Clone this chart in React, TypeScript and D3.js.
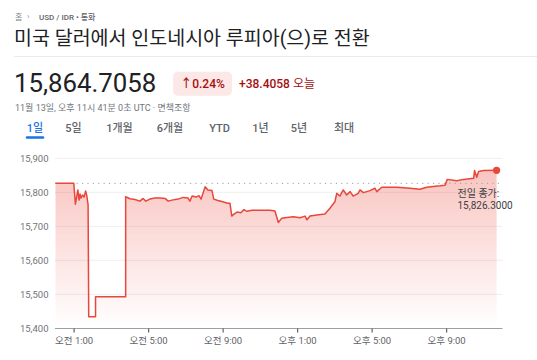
import React from "react";
import * as d3 from "d3";

const times = [
  "00:00","00:59","01:04","01:08","01:12","01:16","01:19","01:22","01:27","01:32","01:37","01:41","01:45",
  "01:47","02:09","02:09","03:46","03:46",
  "04:00","04:16","04:32","04:42","04:51","05:04","05:20","05:37","05:53","06:03","06:15","06:35","06:51",
  "07:07","07:13","07:20","07:33","07:42","07:49","08:02","08:11","08:24","08:30","08:43","08:56","09:15",
  "09:22","09:28","09:35","09:45","09:57","10:07","10:17","10:33","10:59","11:31","11:47","11:58","12:09",
  "12:25","12:46","13:08","13:24","13:30","13:40","14:02","14:28","14:44","15:00","15:06","15:16","15:27",
  "15:38","15:49","15:59","16:15","16:21","16:32","16:53","17:09","17:15","17:31","18:20","19:02","19:34",
  "19:56","20:39","20:55","21:02","21:33","21:54","22:27","22:30","22:37","22:43","22:59","23:41"
];
const rates = [
  15826.3,15826.3,15765,15786,15807,15777,15795,15783,15792,15786,15804,15789,15763,
  15434,15434,15493,15493,15787,
  15781,15779,15774,15782,15774,15780,15783,15783,15782,15774,15777,15780,15785,
  15783,15774,15789,15786,15790,15780,15816,15807,15805,15780,15776,15773,15768,
  15768,15730,15736,15742,15740,15749,15744,15747,15747,15747,15745,15711,15724,
  15726,15728,15725,15730,15719,15730,15733,15736,15753,15772,15797,15789,15807,
  15792,15802,15789,15797,15807,15799,15805,15812,15802,15815,15815,15812,15809,
  15815,15819,15821,15838,15834,15838,15841,15864,15844,15861,15864,15864.7058
];
const yTicks = [15400, 15500, 15600, 15700, 15800, 15900];
const xTickTimes = ["01:00", "05:00", "09:00", "13:00", "17:00", "21:00"];
const xTickLabels = ["오전 1:00", "오전 5:00", "오전 9:00", "오후 1:00", "오후 5:00", "오후 9:00"];
const tabs = ["1일", "5일", "1개월", "6개월", "YTD", "1년", "5년", "최대"];
const tabX = [35, 73.5, 119.5, 170, 219.5, 260.5, 299, 344];
const prevClose = 15826.3;
const price = "15,864.7058";
const pctChange = "↑0.24%";
const absChange = "+38.4058";

const FONT = "Roboto, 'Noto Sans CJK KR', 'Noto Sans', sans-serif";

export default function App() {
  const parse = d3.timeParse("%H:%M");
  const t0 = parse("00:00") as Date;
  const t1 = d3.timeDay.offset(t0, 1);
  const x = d3.scaleTime().domain([t0, t1]).range([55.5, 502.5]);
  const y = d3.scaleLinear().domain([15400, 15900]).range([328.3, 158.3]);
  const data = times.map((t, i) => ({ t: parse(t) as Date, v: rates[i] }));
  const line = d3.line<{ t: Date; v: number }>().x(d => x(d.t)).y(d => y(d.v));
  const area = d3.area<{ t: Date; v: number }>().x(d => x(d.t)).y0(y(15400)).y1(d => y(d.v));
  const last = data[data.length - 1];
  const red = "#e8473c";

  return (
    <svg width={537} height={360} style={{ position: "fixed", left: 0, top: 0, background: "#fff" }} fontFamily={FONT}>
      <defs>
        <linearGradient id="fillGrad" gradientUnits="userSpaceOnUse" x1={0} y1={165} x2={0} y2={328}>
          <stop offset="0%" stopColor="#ea4335" stopOpacity={0.32} />
          <stop offset="100%" stopColor="#ea4335" stopOpacity={0} />
        </linearGradient>
      </defs>
      {/* breadcrumb */}
      <text x={15} y={19.5} fontSize={8} fill="#80868b">홈</text>
      <text x={27} y={19} fontSize={8} fill="#80868b">›</text>
      <text x={39} y={19.5} fontSize={8} fontWeight={500} fill="#5f6368">USD / IDR • 통화</text>
      {/* title */}
      <text x={14} y={44.5} fontSize={19.5} fill="#202124">미국 달러에서 인도네시아 루피아(으)로 전환</text>
      <line x1={14} x2={537} y1={56.5} y2={56.5} stroke="#e8eaed" strokeWidth={1} />
      {/* price */}
      <text x={14} y={92.3} fontSize={25.8} fill="#202124">{price}</text>
      <rect x={173} y={71.7} width={59} height={24} rx={5} fill="#fce8e6" />
      <text x={202.5} y={87.5} fontSize={12} fontWeight={500} fill="#a50e0e" textAnchor="middle">{pctChange}</text>
      <text x={239} y={87.5} fontSize={12} fontWeight={500} fill="#a50e0e">{absChange} <tspan fontWeight={400}>오늘</tspan></text>
      <text x={15} y={110.8} fontSize={9} fill="#70757a">11월 13일, 오후 11시 41분 0초 UTC · 면책조항</text>
      {/* tabs */}
      {tabs.map((t, i) => (
        <text key={t} x={tabX[i]} y={132.3} fontSize={11} fontWeight={500} textAnchor="middle" fill={i === 0 ? "#1a73e8" : "#5f6368"}>{t}</text>
      ))}
      <line x1={27} x2={43} y1={137.5} y2={137.5} stroke="#1a73e8" strokeWidth={2.5} strokeLinecap="round" />
      {/* grid */}
      {yTicks.map(v => (
        <g key={v}>
          {v !== 15400 && <line x1={55} x2={502.5} y1={y(v)} y2={y(v)} stroke="#eeeeee" strokeWidth={1} />}
          <text x={48.5} y={y(v) + 3.5} fontSize={9.5} fill="#70757a" textAnchor="end">{d3.format(",")(v)}</text>
        </g>
      ))}
      {/* area & line */}
      <path d={area(data) ?? ""} fill="url(#fillGrad)" />
      <line x1={55} x2={502.5} y1={y(prevClose)} y2={y(prevClose)} stroke="#9aa0a6" strokeWidth={1} strokeDasharray="1.2,4.2" />
      <path d={line(data) ?? ""} fill="none" stroke={red} strokeWidth={1.5} strokeLinejoin="round" />
      <circle cx={x(last.t)} cy={y(last.v)} r={3.6} fill={red} />
      {/* axis */}
      <line x1={55} x2={502.5} y1={328.5} y2={328.5} stroke="#9aa0a6" strokeWidth={1} />
      {xTickTimes.map((t, i) => {
        const xx = x(parse(t) as Date);
        return (
          <g key={t}>
            <line x1={xx} x2={xx} y1={328.5} y2={332.5} stroke="#5f6368" strokeWidth={1.2} />
            <text x={xx} y={343.5} fontSize={9.5} fill="#5f6368" textAnchor="middle">{xTickLabels[i]}</text>
          </g>
        );
      })}
      {/* prev close label */}
      <text x={457.5} y={197} fontSize={10} fill="#3c4043">전일 종가:</text>
      <text x={457.5} y={208.5} fontSize={10} fill="#3c4043">{d3.format(",.4f")(prevClose)}</text>
    </svg>
  );
}
